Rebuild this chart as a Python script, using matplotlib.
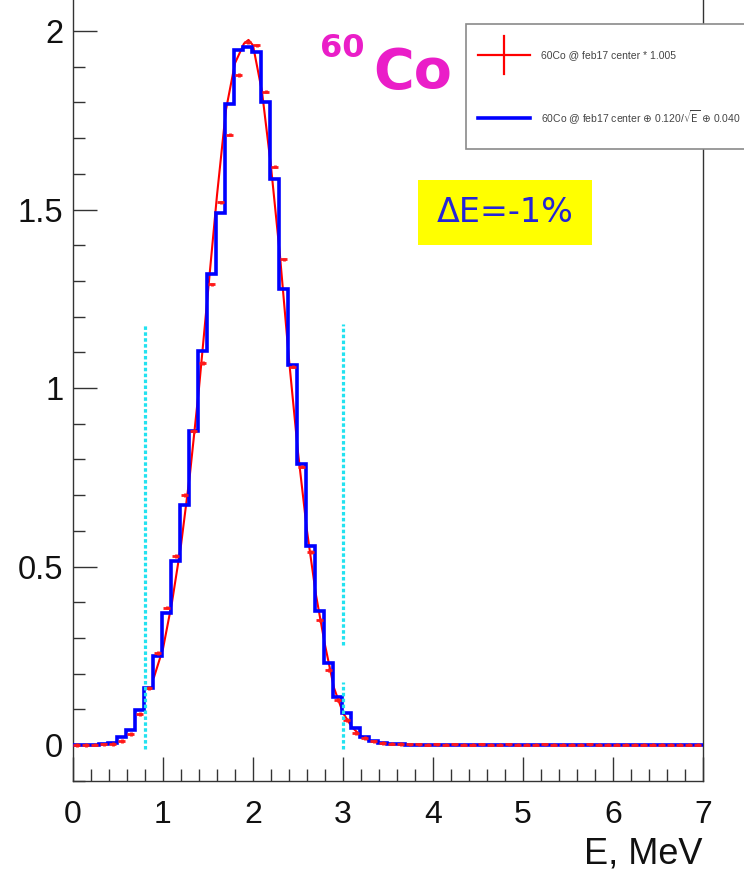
import numpy as np
import matplotlib
matplotlib.use("Agg")
import matplotlib.pyplot as plt
from matplotlib.patches import Rectangle
from matplotlib.lines import Line2D
from matplotlib.ticker import MultipleLocator

# ---- data -------------------------------------------------------------
bin_width = 0.1
first_edge = -0.01

# smeared simulation: 60Co @ feb17 center (+) 0.120/sqrt(E) (+) 0.040
blue_counts = [
    0.000, 0.000, 0.001, 0.002, 0.007, 0.022, 0.042, 0.098, 0.160, 0.250,
    0.370, 0.515, 0.672, 0.880, 1.104, 1.320, 1.490, 1.796, 1.947, 1.954,
    1.940, 1.800, 1.585, 1.277, 1.064, 0.787, 0.557, 0.375, 0.230, 0.134,
    0.090, 0.047, 0.022, 0.011, 0.005, 0.003, 0.002, 0.001, 0.001, 0.001,
    0.001, 0.001, 0.001, 0.001, 0.001, 0.001, 0.001, 0.001, 0.001, 0.001,
    0.001, 0.001, 0.001, 0.001, 0.001, 0.001, 0.001, 0.001, 0.001, 0.001,
    0.001, 0.001, 0.001, 0.001, 0.001, 0.001, 0.001, 0.001, 0.001, 0.001,
    0.001,
]

# measured spectrum: 60Co @ feb17 center * 1.005
red_counts = [
    0.000, 0.000, 0.001, 0.002, 0.003, 0.011, 0.031, 0.087, 0.160, 0.258,
    0.385, 0.530, 0.700, 0.880, 1.070, 1.290, 1.520, 1.710, 1.877, 1.970,
    1.960, 1.830, 1.620, 1.360, 1.060, 0.780, 0.540, 0.350, 0.210, 0.126,
    0.070, 0.034, 0.020, 0.010, 0.006, 0.004, 0.003, 0.002, 0.002, 0.001,
    0.002, 0.001, 0.002, 0.001, 0.001, 0.002, 0.001, 0.001, 0.002, 0.001,
    0.001, 0.001, 0.002, 0.001, 0.001, 0.001, 0.001, 0.002, 0.001, 0.001,
    0.001, 0.001, 0.001, 0.001, 0.001, 0.001, 0.001, 0.001, 0.001, 0.001,
    0.001,
]

# smooth curve through the measured spectrum
curve_E = [0.90, 1.00, 1.10, 1.20, 1.30, 1.40, 1.50, 1.60, 1.70, 1.80,
           1.90, 1.95, 2.00, 2.10, 2.20, 2.30, 2.40, 2.50, 2.60, 2.70,
           2.80, 2.90, 3.00, 3.10, 3.20, 3.30, 3.40]
curve_val = [0.19, 0.27, 0.40, 0.56, 0.76, 1.00, 1.27, 1.54, 1.78, 1.91,
             1.965, 1.975, 1.96, 1.83, 1.62, 1.37, 1.08, 0.82, 0.60, 0.42,
             0.28, 0.16, 0.09, 0.05, 0.025, 0.012, 0.006]

# energy window cuts
cut_E = [0.8, 3.0]
cut_top = 1.18
cut_gap = [0.176, 0.28]   # interrupted stretch of the upper cut line

x_ticks = [0, 1, 2, 3, 4, 5, 6, 7]
y_ticks = [0, 0.5, 1, 1.5, 2]
y_tick_labels = ["0", "0.5", "1", "1.5", "2"]

# ---- figure -----------------------------------------------------------
W, H = 744, 873
fig = plt.figure(figsize=(W / 100, H / 100), dpi=100)
fig.patch.set_facecolor("white")

narrow = ["Liberation Sans Narrow", "Liberation Sans", "DejaVu Sans"]

ax_left, ax_right, ax_bottom_px, ax_top_px = 73, 703, 781, -20
ax = fig.add_axes([ax_left / W, (H - ax_bottom_px) / H,
                   (ax_right - ax_left) / W, (ax_bottom_px - ax_top_px) / H])
ax.set_xlim(0, 7)
ax.set_ylim(-0.1008, 2.1429)

edges = first_edge + bin_width * np.arange(len(blue_counts) + 1)
centers = edges[:-1] + bin_width / 2

# red smooth curve
ax.plot(curve_E, curve_val, color="#ff0000", lw=1.5, zorder=2)

# blue histogram
ax.stairs(blue_counts, edges, color="#0000ff", lw=2.6, baseline=None, zorder=3)

# red points with error bars
ax.errorbar(centers, red_counts, xerr=0.035, yerr=0.005, fmt="none",
            ecolor="#ff1a1a", elinewidth=2.0, capsize=0, zorder=4)

# cut lines
cyan = "#22e2f0"
dash = (0, (1.1, 0.75))
ax.plot([cut_E[0], cut_E[0]], [-0.012, cut_top], color=cyan, lw=2.3,
        linestyle=dash, zorder=5)
ax.plot([cut_E[1], cut_E[1]], [-0.012, cut_gap[0]], color=cyan, lw=2.3,
        linestyle=dash, zorder=5)
ax.plot([cut_E[1], cut_E[1]], [cut_gap[1], cut_top], color=cyan, lw=2.3,
        linestyle=dash, zorder=5)

# axes styling
for side in ["left", "right", "bottom", "top"]:
    ax.spines[side].set_color("#333333")
    ax.spines[side].set_linewidth(1.0)

ax.set_xticks(x_ticks)
ax.set_xticklabels([str(v) for v in x_ticks])
ax.set_yticks(y_ticks)
ax.set_yticklabels(y_tick_labels)
ax.xaxis.set_minor_locator(MultipleLocator(0.2))
ax.yaxis.set_minor_locator(MultipleLocator(0.1))
ax.tick_params(axis="both", which="both", direction="in", color="#333333",
               width=1.0)
ax.tick_params(axis="both", which="major", length=17)
ax.tick_params(axis="both", which="minor", length=8.5)
ax.tick_params(axis="x", which="major", pad=14)
ax.tick_params(axis="y", which="major", pad=7)
for lab in ax.get_xticklabels():
    lab.set_family(narrow)
    lab.set_fontsize(23)
    lab.set_color("#111111")
for lab in ax.get_yticklabels():
    lab.set_family(narrow)
    lab.set_fontsize(23.5)
    lab.set_color("#111111")

fig.text(ax_right / W, (H - 864) / H, "E, MeV", family=narrow, fontsize=26,
         ha="right", va="baseline", color="#111111")

# isotope label
magenta = "#ea1ec8"
fig.text(320 / W, (H - 57) / H, "60", fontsize=23, fontweight="bold",
         color=magenta, ha="left", va="baseline", family="DejaVu Sans")
fig.text(373 / W, (H - 88) / H, "Co", fontsize=40, fontweight="bold",
         color=magenta, ha="left", va="baseline", family="DejaVu Sans")

# energy-shift tag
fig.patches.append(Rectangle((418 / W, (H - 245) / H), 174 / W, 65 / H,
                             transform=fig.transFigure, facecolor="#ffff00",
                             edgecolor="none", zorder=5))
fig.text(505 / W, (H - 212) / H, "\u0394E=-1%", fontsize=24, color="#2424d8",
         ha="center", va="center", family="DejaVu Sans", zorder=6)

# legend box
lx0, ly0, lx1, ly1 = 466, 24, 770, 149
fig.patches.append(Rectangle((lx0 / W, (H - ly1) / H), (lx1 - lx0) / W,
                             (ly1 - ly0) / H, transform=fig.transFigure,
                             facecolor="white", edgecolor="#8a8a8a",
                             linewidth=1.2, zorder=10))
fig.lines.append(Line2D([478 / W, 530 / W], [(H - 55) / H] * 2,
                        transform=fig.transFigure, color="#ff0000", lw=1.6,
                        zorder=11))
fig.lines.append(Line2D([504 / W, 504 / W], [(H - 36) / H, (H - 74) / H],
                        transform=fig.transFigure, color="#ff0000", lw=1.6,
                        zorder=11))
fig.lines.append(Line2D([478 / W, 530 / W], [(H - 118) / H] * 2,
                        transform=fig.transFigure, color="#0000ff", lw=2.6,
                        zorder=11))
fig.text(541 / W, (H - 55) / H, "60Co @ feb17 center * 1.005", fontsize=7.5,
         color="#444444", ha="left", va="center",
         family=["Liberation Sans", "DejaVu Sans"], zorder=12)
fig.text(541 / W, (H - 118) / H,
         r"60Co @ feb17 center $\oplus$ 0.120/$\sqrt{\mathrm{E}}$ $\oplus$ 0.040",
         fontsize=7.5, color="#444444", ha="left", va="center",
         family=["Liberation Sans", "DejaVu Sans"], zorder=12)

fig.savefig("out.png", dpi=100, facecolor="white")
